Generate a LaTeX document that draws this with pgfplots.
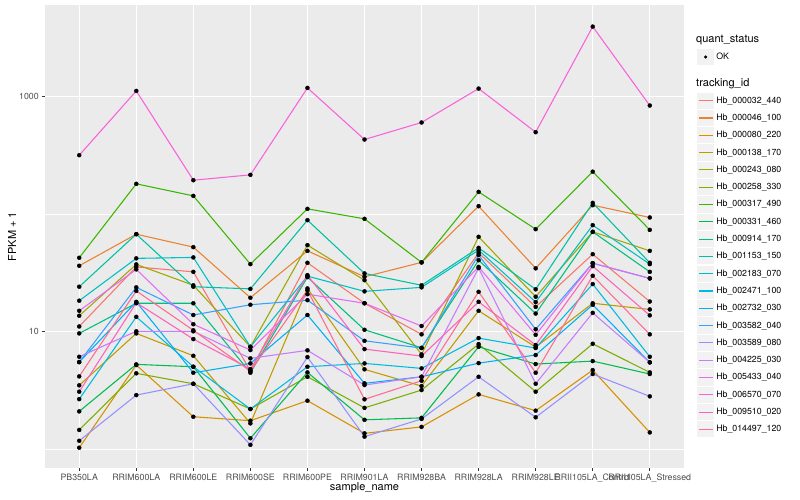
\documentclass[border=0pt]{standalone}
\usepackage{fontspec}
\setmainfont{TeX Gyre Heros}
\usepackage{pgfplots}
\pgfplotsset{compat=1.18}
\usepackage{pgfplotstable}

\definecolor{c1}{HTML}{F8766D}
\definecolor{c2}{HTML}{EA8331}
\definecolor{c3}{HTML}{D89000}
\definecolor{c4}{HTML}{C09B00}
\definecolor{c5}{HTML}{A3A500}
\definecolor{c6}{HTML}{7CAE00}
\definecolor{c7}{HTML}{39B600}
\definecolor{c8}{HTML}{00BB4E}
\definecolor{c9}{HTML}{00BF7D}
\definecolor{c10}{HTML}{00C1A3}
\definecolor{c11}{HTML}{00BFC4}
\definecolor{c12}{HTML}{00BAE0}
\definecolor{c13}{HTML}{00B0F6}
\definecolor{c14}{HTML}{35A2FF}
\definecolor{c15}{HTML}{9590FF}
\definecolor{c16}{HTML}{C77CFF}
\definecolor{c17}{HTML}{E76BF3}
\definecolor{c18}{HTML}{FA62DB}
\definecolor{c19}{HTML}{FF62BC}
\definecolor{c20}{HTML}{FF6C91}
\definecolor{panelgray}{HTML}{EBEBEB}
\definecolor{keygray}{HTML}{F2F2F2}
\definecolor{tickgray}{HTML}{4D4D4D}
\definecolor{tickmark}{HTML}{333333}

\pgfplotstableread{
x s1 s2 s3 s4 s5 s6 s7 s8 s9 s10 s11 s12 s13 s14 s15 s16 s17 s18 s19 s20
0 11.1 36.5 1.03 3.50 13.7 1.46 42.7 2.10 9.69 24.2 18.4 2.67 5.52 5.52 1.18 6.13 15.1 319 3.09 4.17
1 35.7 67.8 5.21 9.69 37.5 4.43 182 5.28 17.5 67.8 42.2 13.4 18.0 23.9 2.89 10.1 34.0 1125 17.7 22.3
2 32.4 52.6 1.89 6.25 24.9 3.61 143.7 5.04 17.5 24.2 43.0 5.04 4.48 13.9 3.61 10.1 11.6 195.4 8.67 10.3
3 4.63 19.5 1.75 1.66 7.45 2.20 37.7 1.24 4.48 23.2 7.45 2.20 5.38 17.0 1.09 5.94 6.99 217 4.81 4.63
4 38.7 48.9 2.59 23.4 54.7 4.14 111.4 4.51 29.2 89.3 29.8 5.04 13.9 18.6 6.09 6.95 20.9 1194 30.4 22.6
5 17.5 29.4 1.365 4.79 27.5 2.25 91.6 1.78 10.4 31.4 22.1 5.38 3.64 8.38 1.28 3.52 17.5 434 7.12 2.66
6 9.51 39.0 1.55 3.45 6.42 3.19 39.0 1.85 7.31 24.9 23.9 4.88 4.14 7.27 1.81 4.14 11.2 606 6.21 3.83
7 47.0 117.4 2.93 15.1 64.4 7.86 155.4 7.45 40.7 51.9 49.6 8.84 5.41 45.0 4.14 34.9 35.7 1178 18.0 21.9
8 16.3 34.7 2.13 7.41 19.9 3.09 74.8 5.31 14.3 23.0 17.9 7.27 6.34 10.5 1.87 3.61 9.43 501 7.71 4.48
9 45.8 119.7 4.72 17.5 71.0 7.91 231 5.63 71.0 125.3 80.9 25.5 17.0 38.4 4.37 14.5 38.4 3972 36.2 30.0
10 18.1 94.1 1.39 15.5 48.9 4.51 73.8 4.37 32.4 38.7 37.7 6.13 5.49 28.5 2.82 5.49 28.5 845 13.8 9.51
}\data

\begin{document}
\begin{tikzpicture}
\useasboundingbox (0,0) rectangle (800bp,500bp);
\begin{axis}[
  at={(45bp,32bp)}, anchor=south west,
  scale only axis, width=639bp, height=463bp,
  xmin=-0.6, xmax=10.6,
  ymode=log, ymin=0.692, ymax=6067,
  xtick={0,...,10},
  xticklabels={PB350LA,RRIM600LA,RRIM600LE,RRIM600SE,RRIM600PE,RRIM901LA,RRIM928BA,RRIM928LA,RRIM928LE,RRII105LA\_Control,RRII105LA\_Stressed},
  ytick={10,1000}, yticklabels={10,1000},
  minor ytick={1,100},
  grid=both,
  major grid style={white, line width=1.07bp},
  minor grid style={white, line width=0.53bp},
  axis background/.style={fill=panelgray},
  axis line style={draw=none},
  tick pos=left, tick align=outside,
  major tick length=2.75bp, minor tick length=0pt,
  tick style={color=tickmark, line width=1.07bp},
  ticklabel style={font=\fontsize{8.8bp}{10bp}\selectfont, text=tickgray},
  xlabel={sample\_name}, ylabel={FPKM + 1},
  label style={font=\fontsize{11bp}{13bp}\selectfont},
  xlabel style={at={(axis description cs:0.5,-0.0432)}, anchor=center},
  ylabel style={at={(axis description cs:-0.0516,0.5)}, anchor=center},
  legend style={at={(axis description cs:1.0203,0.9064)}, anchor=north west,
    draw=none, fill=none, inner sep=0pt, outer sep=0pt, row sep=0pt,
    font=\fontsize{8.8bp}{10bp}\selectfont,
    /tikz/every even column/.append style={column sep=3.5bp}},
  legend cell align=left,
  legend image code/.code={%
    \path[draw=none, fill=none] (0bp,-8.65bp) rectangle (17.3bp,8.65bp);
    \path[draw=none, fill=keygray] (0bp,-8.1bp) rectangle (17.3bp,8.1bp);
    \draw[#1, mark=none, fill=none, line width=1.07bp] (1.7bp,0bp) -- (15.6bp,0bp);},
]
\addlegendimage{legend image code/.code={%
    \path[draw=none, fill=none] (0bp,-8.65bp) rectangle (17.3bp,8.65bp);
    \path[draw=none, fill=keygray] (0bp,-8.1bp) rectangle (17.3bp,8.1bp);
    \path[draw=none, fill=black] (8.65bp,0bp) circle (1.7bp);}}
\addlegendentry{OK}
\addlegendimage{legend image code/.code={\path[draw=none, fill=none] (0bp,-13.2bp) rectangle (17.3bp,13.2bp);}}
\addlegendentry{}

\addplot[c1, line width=1.07bp, mark=none] table[x=x,y=s1]{\data};
\addlegendentry{Hb\_000032\_440}
\addplot[c2, line width=1.07bp, mark=none] table[x=x,y=s2]{\data};
\addlegendentry{Hb\_000046\_100}
\addplot[c3, line width=1.07bp, mark=none] table[x=x,y=s3]{\data};
\addlegendentry{Hb\_000080\_220}
\addplot[c4, line width=1.07bp, mark=none] table[x=x,y=s4]{\data};
\addlegendentry{Hb\_000138\_170}
\addplot[c5, line width=1.07bp, mark=none] table[x=x,y=s5]{\data};
\addlegendentry{Hb\_000243\_080}
\addplot[c6, line width=1.07bp, mark=none] table[x=x,y=s6]{\data};
\addlegendentry{Hb\_000258\_330}
\addplot[c7, line width=1.07bp, mark=none] table[x=x,y=s7]{\data};
\addlegendentry{Hb\_000317\_490}
\addplot[c8, line width=1.07bp, mark=none] table[x=x,y=s8]{\data};
\addlegendentry{Hb\_000331\_460}
\addplot[c9, line width=1.07bp, mark=none] table[x=x,y=s9]{\data};
\addlegendentry{Hb\_000914\_170}
\addplot[c10, line width=1.07bp, mark=none] table[x=x,y=s10]{\data};
\addlegendentry{Hb\_001153\_150}
\addplot[c11, line width=1.07bp, mark=none] table[x=x,y=s11]{\data};
\addlegendentry{Hb\_002183\_070}
\addplot[c12, line width=1.07bp, mark=none] table[x=x,y=s12]{\data};
\addlegendentry{Hb\_002471\_100}
\addplot[c13, line width=1.07bp, mark=none] table[x=x,y=s13]{\data};
\addlegendentry{Hb\_002732\_030}
\addplot[c14, line width=1.07bp, mark=none] table[x=x,y=s14]{\data};
\addlegendentry{Hb\_003582\_040}
\addplot[c15, line width=1.07bp, mark=none] table[x=x,y=s15]{\data};
\addlegendentry{Hb\_003589\_080}
\addplot[c16, line width=1.07bp, mark=none] table[x=x,y=s16]{\data};
\addlegendentry{Hb\_004225\_030}
\addplot[c17, line width=1.07bp, mark=none] table[x=x,y=s17]{\data};
\addlegendentry{Hb\_005433\_040}
\addplot[c18, line width=1.07bp, mark=none] table[x=x,y=s18]{\data};
\addlegendentry{Hb\_006570\_070}
\addplot[c19, line width=1.07bp, mark=none] table[x=x,y=s19]{\data};
\addlegendentry{Hb\_009510\_020}
\addplot[c20, line width=1.07bp, mark=none] table[x=x,y=s20]{\data};
\addlegendentry{Hb\_014497\_120}

\pgfplotsinvokeforeach{1,...,20}{
  \addplot[only marks, mark=*, mark size=2bp, black, forget plot] table[x=x,y=s#1]{\data};
}
\end{axis}
\node[anchor=west, inner sep=0pt, font=\fontsize{11bp}{13bp}\selectfont] at (696bp,460bp) {quant\_status};
\node[anchor=west, inner sep=0pt, font=\fontsize{11bp}{13bp}\selectfont] at (696bp,416bp) {tracking\_id};
\end{tikzpicture}
\end{document}
